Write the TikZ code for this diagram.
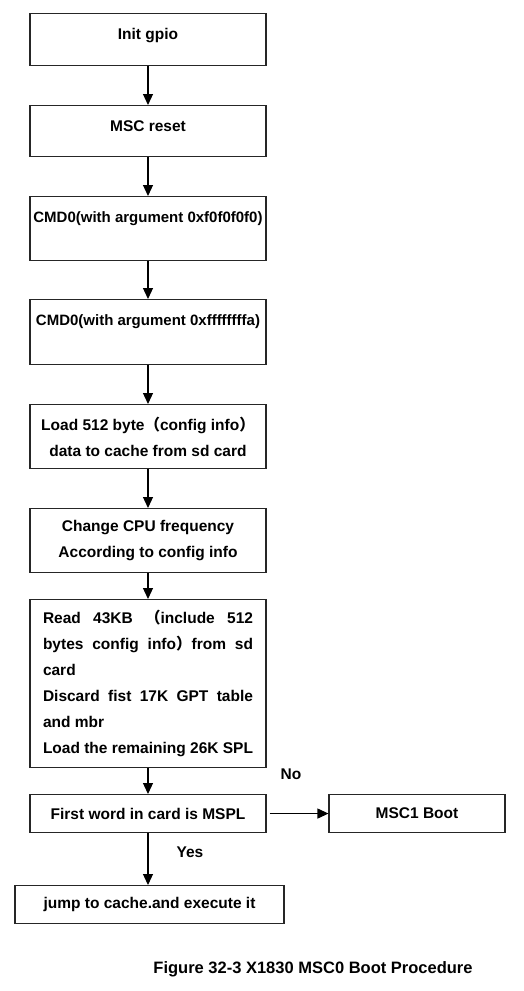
\documentclass[tikz,border=0pt]{standalone}
\usepackage{fontspec}
\setmainfont{Liberation Sans}
\newfontfamily\cjk{Noto Sans CJK SC}
\usetikzlibrary{arrows.meta}

\begin{document}
\begin{tikzpicture}[%
        x = 1pt, y = -1pt,
        stage/.style = {%
            draw = black!85,
            line width = 1.1pt,
            minimum width = 236pt,
            inner sep = 0pt,
            anchor = north,
            align = center,
            font = \fontsize{15.5}{26}\selectfont\bfseries
        },
        toptext/.style = {text height = 26pt, text depth = #1},
        flow/.style = {%
            -{Triangle[length = 11pt, width = 10pt]},
            line width = 1.2pt
        },
        note/.style = {font = \fontsize{15.5}{18}\selectfont\bfseries}
    ]

        % Fix the page to the size of the figure.
        \useasboundingbox (0,0) rectangle (524,991);

        % The steps of the procedure, from top to bottom.
        \node[stage, toptext = 26pt] (gpio) at (148,13) {Init gpio};
        \node[stage, toptext = 25pt] (reset) at (148,105) {MSC reset};
        \node[stage, toptext = 38pt, font = \fontsize{15}{26}\selectfont\bfseries]
            (cmdzero) at (148,196) {CMD0(with argument 0xf0f0f0f0)};
        \node[stage, toptext = 39pt, font = \fontsize{15}{26}\selectfont\bfseries]
            (cmdone) at (148,299) {CMD0(with argument 0xffffffffa)};
        \node[stage, minimum height = 64pt] (config) at (148,404)
            {Load 512 byte{\cjk （}config info{\cjk ）}\\data to cache from sd card};
        \node[stage, minimum height = 64pt] (cpu) at (148,508)
            {Change CPU frequency\\According to config info};
        \node[stage, minimum height = 168pt, text width = 210pt, align = justify]
            (read) at (148,599)
            {Read 43KB {\cjk （}include 512\linebreak
             bytes config info{\cjk ）}from sd\linebreak
             card\\
             Discard fist 17K GPT table\linebreak
             and mbr\\
             Load the remaining 26K SPL};
        \node[stage, minimum height = 38pt] (check) at (148,794)
            {First word in card is MSPL};
        \node[stage, minimum height = 38pt, minimum width = 176pt] (mscone)
            at (417,794) {MSC1 Boot};
        \node[stage, minimum height = 38pt, minimum width = 269pt] (jump)
            at (149.5,885) {jump to cache.and execute it};

        % Arrows between the steps.
        \draw[flow] (gpio) -- (reset);
        \draw[flow] (reset) -- (cmdzero);
        \draw[flow] (cmdzero) -- (cmdone);
        \draw[flow] (cmdone) -- (config);
        \draw[flow] (config) -- (cpu);
        \draw[flow] (cpu) -- (read);
        \draw[flow] (read) -- (check);
        \draw[flow, shorten <= 3pt] (check) -- (mscone);
        \draw[flow] (check) -- (check |- jump.north);

        % Branch labels and the caption.
        \node[note] (no) at (291,774) {No};
        \node[note] (yes) at (190,852) {Yes};
        \node[font = \fontsize{16.5}{20}\selectfont\bfseries] (caption) at (313,969)
            {Figure 32-3 X1830 MSC0 Boot Procedure};
    \end{tikzpicture}
\end{document}
